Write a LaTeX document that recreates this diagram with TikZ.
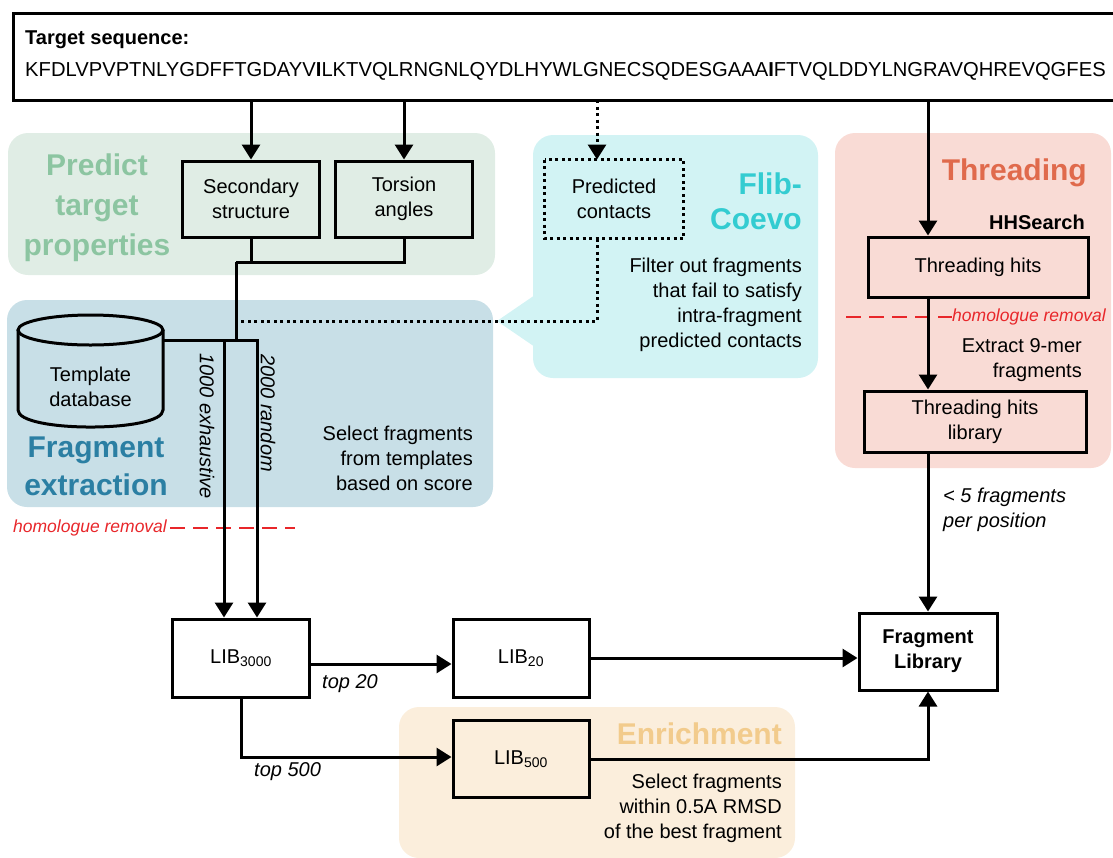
\documentclass[tikz,border=0pt]{standalone}
\usepackage{fontspec}
\setmainfont{Liberation Sans}
\usetikzlibrary{arrows.meta,calc}
\definecolor{gfill}{HTML}{E0EDE5}
\definecolor{gtitle}{HTML}{8CC5A1}
\definecolor{bfill}{HTML}{C8DFE7}
\definecolor{btitle}{HTML}{2B7FA3}
\definecolor{cfill}{HTML}{D2F3F4}
\definecolor{ctitle}{HTML}{33CCD1}
\definecolor{tfill}{HTML}{F9DBD5}
\definecolor{ttitle}{HTML}{E06A4C}
\definecolor{efill}{HTML}{FBEEDC}
\definecolor{etitle}{HTML}{F2CB8C}
\definecolor{hred}{HTML}{E8262A}
\newcommand{\fsz}[2]{\fontsize{#1}{#2}\selectfont}
\begin{document}
\begin{tikzpicture}[x=1pt,y=-1pt,
  ln/.style={line width=3pt},
  arr/.style={-{Triangle[length=15pt,width=18pt]}},
  dotln/.style={line width=3pt,dash pattern=on 3pt off 3.5pt},
  redln/.style={hred,line width=2pt,dash pattern=on 15pt off 8pt},
  region/.style={rounded corners=20pt},
  box/.style={draw,line width=3pt,inner sep=0pt,align=center,font=\fsz{20}{25}},
  txt/.style={inner sep=0pt,font=\fsz{20}{25}},
  title/.style={inner sep=0pt,font=\fsz{30}{38}\bfseries},
  lab/.style={inner sep=0pt,font=\fsz{20}{25}\itshape},
  redlab/.style={inner sep=0pt,text=hred,font=\fsz{17.5}{20}\itshape}]
\useasboundingbox (0,0) rectangle (1113,857);
% regions
\fill[gfill,region] (8,133) rectangle (495,275);
\fill[bfill,region] (7,300) rectangle (493,507);
\fill[cfill,region] (533,135) rectangle (818,378);
\fill[cfill] (535,295) -- (497,321) -- (535,347) -- cycle;
\fill[tfill,region] (835,133) rectangle (1111,468);
\fill[efill,region] (399,707) rectangle (795,858);
% region titles
\node[title,text=gtitle,align=center,font=\fsz{30}{40}\bfseries] (tpred) at (97,208) {Predict\\target\\properties};
\node[title,text=btitle,align=center] (tfrag) at (96,466) {Fragment\\extraction};
\node[title,text=ctitle,align=right,anchor=east,font=\fsz{30}{35}\bfseries] (tflib) at (802,201) {Flib-\\Coevo};
\node[title,text=ttitle,anchor=east] (tthr) at (1087,173) {Threading};
\node[title,text=etitle,anchor=east] (tenr) at (782,734) {Enrichment};
% target sequence
\draw[ln] (1113,13) -- (13,13) -- (13,100) -- (1113,100);
\node[txt,anchor=west,font=\fsz{20}{25}\bfseries] (tsl) at (25,40) {Target sequence:};
\node[txt,anchor=west,font=\fsz{20.2}{25}] (tseq) at (25,71) {KFDLVPVPTNLYGDFFTGDAYV\textbf{I}LKTVQLRNGNLQYDLHYWLGNECSQDESGAAA\textbf{I}FTVQLDDYLNGRAVQHREVQGFES};
% boxes
\node[box,minimum width=137pt,minimum height=76pt] (ss) at (251,199) {Secondary\\structure};
\node[box,minimum width=137pt,minimum height=76pt] (ta) at (404,199) {Torsion\\angles};
\node[box,draw=none,minimum width=136pt,minimum height=76pt] (pc) at (614,199) {Predicted\\contacts};
\draw[dotln] (pc.north west) rectangle (pc.south east);
\node[box,minimum width=220pt,minimum height=60pt] (th) at (978,267) {Threading hits};
\node[box,minimum width=222pt,minimum height=61pt] (thl) at (975,421.5) {Threading hits\\library};
\node[box,minimum width=137pt,minimum height=78pt] (lib3000) at (241,658) {LIB\textsubscript{3000}};
\node[box,minimum width=136pt,minimum height=78pt] (lib20) at (521,658) {LIB\textsubscript{20}};
\node[box,minimum width=136pt,minimum height=77pt] (lib500) at (521,759) {LIB\textsubscript{500}};
\node[box,minimum width=138pt,minimum height=77pt,font=\fsz{20}{25}\bfseries] (fl) at (928,651.5) {Fragment\\Library};
% database cylinder
\draw[ln] (90.5,330) ellipse [x radius=72.5, y radius=15];
\draw[ln] (18,330) -- (18,410) .. controls (18,432.7) and (163,432.7) .. (163,410) -- (163,330);
\node[txt,align=center] (db) at (90.5,387) {Template\\database};
% descriptive texts
\node[txt,align=right,anchor=east] (dflib) at (802,304.5) {Filter out fragments\\that fail to satisfy\\intra-fragment\\predicted contacts};
\node[txt,align=right,anchor=east] (dsel) at (473,458) {Select fragments\\from templates\\based on score};
\node[txt,align=right,anchor=east] (dext) at (1082,360) {Extract 9-mer\\fragments};
\node[txt,align=right,anchor=east] (denr) at (782,808.5) {Select fragments\\within 0.5A RMSD\\of the best fragment};
\node[txt,anchor=east,font=\fsz{20}{25}\bfseries] (hhs) at (1085,222) {HHSearch};
\node[lab,align=left,anchor=west] (l5) at (943,509.5) {< 5 fragments\\per position};
\node[lab,anchor=west] (ltop20) at (322,684) {top 20};
\node[lab,anchor=west] (ltop500) at (254,772) {top 500};
\node[lab,rotate=-90] (l1000) at (207,426) {1000 exhaustive};
\node[lab,rotate=-90] (l2000) at (268,413) {2000 random};
% homologue removal
\node[redlab,anchor=west] (hr1) at (13,528) {homologue removal};
\draw[redln] (hr1.east) ++(3,0) -- (295,528);
\node[redlab,anchor=west] (hr2) at (952,317) {homologue removal};
\draw[redln] (846,317) -- (hr2.west);
% coordinates
\coordinate (s1) at (251,100);
\coordinate (s2) at (404,100);
\coordinate (s3) at (597,100);
\coordinate (s4) at (928,100);
\coordinate (jn) at (236,262);
\coordinate (j2) at (236,340);
\coordinate (dbR) at (163,340);
\coordinate (c1) at (224,340);
\coordinate (c2) at (257,340);
\coordinate (dt) at (236,321);
% connectors
\draw[ln,arr] (s1) -- (ss.north);
\draw[ln,arr] (s2) -- (ta.north);
\draw[dotln,arr] (s3) -- (s3 |- pc.north);
\draw[ln,arr] (s4) -- (s4 |- th.north);
\draw[ln] (ss.south) |- (jn);
\draw[ln] (ta.south) |- (jn);
\draw[ln] (jn) -- (j2);
\draw[dotln] (s3 |- pc.south) -- (s3 |- dt) -- (dt);
\draw[ln,arr] (dbR) -- (c2) -- (c2 |- lib3000.north);
\draw[ln,arr] (c1) -- (c1 |- lib3000.north);
\draw[ln,arr] (s4 |- th.south) -- (s4 |- thl.north);
\draw[ln,arr] (s4 |- thl.south) -- (fl.north);
\draw[ln,arr] ([yshift=-6pt]lib3000.east) -- ([yshift=-6pt]lib20.west);
\draw[ln,arr] (lib20.east) -- (lib20.east -| fl.west);
\draw[ln,arr] (lib3000.south) |- ([yshift=2pt]lib500.west);
\draw[ln,arr] (lib500.east) -| (fl.south);
\end{tikzpicture}
\end{document}
